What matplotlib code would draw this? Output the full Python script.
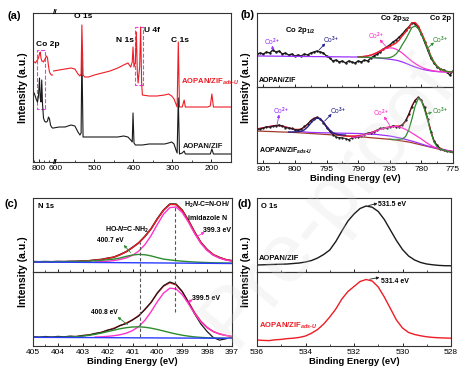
import matplotlib
matplotlib.use('Agg')
import matplotlib.pyplot as plt
from matplotlib.patches import Rectangle
from matplotlib.ticker import MultipleLocator, FixedLocator

plt.rcParams['font.family'] = ['Liberation Sans', 'DejaVu Sans']
plt.rcParams['mathtext.fontset'] = 'custom'
plt.rcParams['mathtext.rm'] = 'Liberation Sans:bold'
plt.rcParams['mathtext.it'] = 'Liberation Sans:italic:bold'
plt.rcParams['mathtext.bf'] = 'Liberation Sans:bold'

RED = '#ee1c25'
BLACK = '#1a1a1a'
MAGENTA = '#ff33cc'
PURPLE = '#9b30ff'
NAVY = '#23238e'
GREEN = '#2e8b2e'
BLUE = '#2b3bff'
BROWN = '#a33a2a'
GREYLINE = '#555555'

# ---------------- (a) survey spectra ----------------
survey_co_be = [811, 809, 807, 805, 803, 801, 799, 797.5, 796, 794.5, 793, 791, 789,
                787, 785, 783, 781, 779, 777, 775, 773]
survey_co_zif = [70, 68, 65, 62, 60, 66, 84, 64, 60, 82, 58, 44, 41,
                 40, 40, 41, 45, 43, 37, 35, 34]
survey_co_ads = [100, 100, 99, 101, 102, 104, 108, 110, 104, 101, 101, 100, 102,
                 104, 106, 104, 96, 90, 88, 87, 87]

survey_be = [605, 590, 575, 560, 550, 542, 537, 534, 532, 529, 525, 515, 500, 480,
             460, 440, 425, 414, 407, 403, 401, 398.5, 395, 392.5, 390, 388, 384,
             381.5, 379, 377, 360, 340, 320, 310, 302, 296, 291, 288, 285, 282,
             275, 270, 267, 240, 210, 203, 199, 195, 170, 150]
survey_zif = [34, 35, 35, 37, 36, 30, 27, 29, 110, 25, 25, 25, 25, 25,
              25, 25, 26, 25, 22, 20, 49, 19, 17, 17, 17, 17, 17,
              17, 17, 17, 18, 18, 18, 19, 20, 18, 12, 9, 64, 8,
              9, 11, 8, 8, 8, 8, 13, 8, 8, 8]
survey_ads = [91, 92, 93, 94, 93, 88, 86, 88, 137, 87, 85, 85, 87, 89,
              91, 94, 97, 99, 95, 100, 115, 95, 100, 130, 90, 79, 95,
              135, 80, 67, 66, 66, 67, 68, 66, 63, 58, 55, 120, 55,
              55, 62, 55, 55, 55, 56, 68, 55, 55, 55]

# ---------------- (b) Co 2p ----------------
co2p_be = [806, 805.5, 805, 804.5, 804, 803.5, 803, 802.5, 802, 801.5, 801, 800.5,
           800, 799.5, 799, 798.5, 798, 797.5, 797, 796.5, 796, 795.5, 795, 794.5,
           794, 793.5, 793, 792.5, 792, 791.5, 791, 790.5, 790, 789.5, 789, 788.5,
           788, 787.5, 787, 786.5, 786, 785.5, 785, 784.5, 784, 783.5, 783, 782.5,
           782, 781.5, 781, 780.5, 780, 779.5, 779, 778.5, 778, 777.5, 777, 776.5,
           776, 775.5, 775]

co_zif_raw = [33, 34, 33, 35, 34, 37, 35, 36, 33, 34, 32, 33,
              31, 32, 31, 33, 32, 34, 35, 36, 35, 34, 31, 29,
              26, 27, 25, 26, 24, 26, 25, 24, 26, 25, 27, 26,
              29, 31, 33, 35, 38, 40, 42, 45, 47, 50, 53, 57,
              60, 64, 63.5, 60, 53, 45, 37, 29, 24, 20, 18, 17,
              15, 12, 16]
co_zif_bg = [31.0, 31.0, 31.0, 30.9, 30.9, 30.9, 30.8, 30.8, 30.8, 30.7, 30.7, 30.7,
             30.6, 30.6, 30.6, 30.5, 30.5, 30.5, 30.4, 30.4, 30.4, 30.3, 30.3, 30.3,
             30.2, 30.2, 30.2, 30.1, 30.1, 30.1, 30.0, 30.0, 30.0, 29.9, 29.8, 29.7,
             29.5, 29.3, 29.1, 28.8, 28.5, 28.1, 27.7, 27.3, 26.8, 26.0, 25.0, 23.8,
             22.5, 21.2, 20.0, 19.0, 18.0, 17.2, 16.6, 16.1, 15.7, 15.4, 15.2, 15.1,
             15.0, 15.0, 15.0]
# fitted curves of the top spectrum, from 790 eV down
co_zif_sat = [30.2, 30.3, 30.6, 31.1, 31.9, 33.0, 34.4, 36.0, 37.5, 38.7, 39.2, 38.9,
              37.8, 36.0, 33.8, 31.1, 28.4, 25.8, 23.5, 21.6, 19.9, 18.5, 17.5, 16.7,
              16.1, 15.6, 15.3, 15.1, 15.0, 15.0, 15.0]
co_zif_co3 = [30.0, 29.9, 29.8, 29.7, 29.5, 29.3, 29.2, 29.0, 28.9, 29.0, 29.4, 30.6,
              33.0, 37.0, 42.5, 47.5, 53.5, 59.5, 61.0, 58.5, 52.5, 46.0, 38.0, 30.5,
              24.5, 20.5, 18.0, 16.5, 15.6, 15.2, 15.0]
co_zif_fit = [30.2, 30.3, 30.6, 31.1, 31.9, 33.0, 34.5, 36.2, 37.9, 39.6, 40.9, 42.2,
              44.0, 47.0, 51.3, 54.8, 59.4, 64.1, 64.5, 61.1, 54.4, 47.3, 38.9, 31.1,
              24.9, 20.7, 18.1, 16.5, 15.6, 15.2, 15.0]

co_ads_raw = [34, 33.8, 35, 36.2, 36, 36.6, 37.5, 38.1, 37, 35.4, 35, 34.6,
              33.5, 33.0, 34, 36.6, 39, 42.5, 44.5, 45.9, 44, 40.1, 35.5, 31.6,
              28.5, 25.9, 25.5, 25.2, 24.5, 23.4, 25, 26.2, 26.5, 26.9, 28.5, 30.1,
              30.5, 31.0, 33, 34.7, 35, 35.0, 36, 37.2, 36.5, 36.4, 38.5, 42.6,
              49, 56.4, 62.5, 65.9, 63, 55.6, 44, 31.5, 22, 17.6, 14.5, 12.6,
              12, 11.9, 11]
co_ads_bg = [32.0, 31.9, 31.75, 31.6, 31.5, 31.4, 31.25, 31.1, 31.0, 30.9, 30.75, 30.6,
             30.5, 30.3, 30.1, 29.9, 29.7, 29.5, 29.3, 29.1, 28.9, 28.7, 28.5, 28.3,
             28.05, 27.85, 27.6, 27.4, 27.2, 26.95, 26.75, 26.5, 26.3, 26.05, 25.8, 25.55,
             25.3, 25.0, 24.75, 24.5, 24.2, 23.95, 23.7, 23.3, 22.9, 22.4, 21.9, 21.45,
             21.0, 20.3, 19.5, 18.8, 18.0, 17.3, 16.5, 15.8, 15.0, 14.2, 13.5, 12.8,
             12.0, 11.2, 10.5]
co_ads_sat1 = [34.0, 34.6, 35.2, 35.9, 36.5, 37.1, 37.5, 37.4, 37.0, 36.1, 35.0, 34.0,
               33.0, 32.2, 31.5, 31.1, 30.8, 30.6, 30.5, 30.4, 30.3, 30.2, 30.15, 30.1,
               30.0, 29.95, 29.9, 29.8, 29.75, 29.7, 29.65, 29.55, 29.5, 29.35, 29.2, 29.0,
               28.85, 28.7, 28.5, 28.1, 27.75, 27.4, 27.0, 26.4, 25.75, 25.1, 24.5, 23.6,
               22.75, 21.9, 21.0, 20.0, 19.0, 18.0, 17.0, 16.25, 15.5, 14.75, 14.0, 13.4,
               12.75, 12.1, 11.5]
# Co3+ 2p1/2 from 801 eV to 792 eV
co_ads_co3b = [31.0, 31.0, 31.1, 31.3, 31.8, 33.2, 36.0, 39.8, 43.2, 45.0, 44.0, 40.8,
               36.5, 32.8, 30.2, 29.0, 28.4, 28.1, 27.9]
# Co2+ satellite from 791 eV down
co_ads_sat2 = [25.5, 26.0, 26.5, 27.2, 28.0, 29.0, 30.0, 31.2, 32.5, 33.6, 34.5, 35.4,
               36.0, 36.4, 36.5, 36.0, 35.0, 33.6, 32.0, 30.0, 28.0, 26.0, 24.0, 21.7,
               19.5, 17.6, 16.0, 15.0, 14.0, 13.2, 12.5, 12.0, 11.5]
# Co3+ 2p3/2 from 785 eV down
co_ads_co3a = [23.7, 23.5, 23.5, 23.6, 24.0, 26.5, 33.0, 44.0, 56.5, 64.5, 62.0, 53.5,
               42.5, 30.5, 21.0, 16.0, 14.0, 13.0, 12.0, 11.3, 10.8]
co_ads_fit = [34.0, 34.6, 35.2, 35.9, 36.5, 37.1, 37.5, 37.4, 37.0, 36.1, 35.2, 34.3,
              33.6, 33.5, 34.0, 35.6, 38.6, 42.3, 44.8, 45.6, 44.4, 41.0, 36.6, 32.8,
              30.2, 28.8, 27.9, 27.4, 27.0, 26.8, 26.8, 27.0, 27.3, 27.8, 28.5, 29.4,
              30.4, 31.5, 32.7, 33.8, 34.7, 35.5, 36.1, 36.6, 36.9, 37.0, 38.0, 41.5,
              48.0, 57.0, 62.8, 65.6, 62.8, 55.0, 44.0, 32.0, 22.0, 17.0, 14.6, 13.2,
              12.2, 11.5, 11.0]

# ---------------- (c) N 1s ----------------
n1s_be = [405.0, 404.75, 404.5, 404.25, 404.0, 403.75, 403.5, 403.25, 403.0, 402.75,
          402.5, 402.25, 402.0, 401.75, 401.5, 401.25, 401.0, 400.75, 400.5, 400.25,
          400.0, 399.75, 399.5, 399.25, 399.0, 398.75, 398.5, 398.25, 398.0, 397.75,
          397.5, 397.25, 397.0]

n1s_zif_raw = [10.4, 10.2, 10.4, 10.2, 10.5, 10.3, 10.6, 10.6, 11.1, 11.2,
               12.0, 12.5, 13.8, 14.8, 17.4, 20.3, 24.6, 29.1, 35.7, 43.3,
               53.3, 62.0, 67.9, 67.9, 61.8, 51.5, 39.8, 29.5, 22.4, 17.2,
               14.5, 12.3, 11.3]
n1s_zif_fit = [10.25, 10.25, 10.28, 10.32, 10.35, 10.41, 10.52, 10.69, 10.98, 11.31,
               11.87, 12.54, 13.64, 14.93, 17.2, 20.46, 24.39, 29.3, 35.46, 43.47,
               53.0, 61.8, 67.49, 67.46, 61.42, 51.22, 39.58, 29.48, 22.27, 17.38,
               14.33, 12.46, 11.13]
n1s_zif_amide = [10.0, 9.95, 9.92, 9.88, 9.84, 9.82, 9.8, 9.82, 9.88, 9.96,
                 10.11, 10.34, 10.78, 11.45, 12.5, 14.1, 16.65, 20.9, 27.36, 36.51,
                 47.66, 57.92, 64.37, 65.02, 59.48, 49.73, 38.38, 28.53, 21.49, 16.74,
                 13.79, 11.99, 10.74]
n1s_zif_oxime = [10.25, 10.25, 10.27, 10.3, 10.32, 10.36, 10.44, 10.54, 10.73, 10.93,
                 11.29, 11.68, 12.3, 12.87, 14.04, 15.66, 16.99, 17.6, 17.26, 16.07,
                 14.4, 12.9, 12.09, 11.36, 10.82, 10.32, 9.98, 9.68, 9.47, 9.27,
                 9.13, 9.02, 8.89]
n1s_zif_base = [10.0, 9.95, 9.91, 9.86, 9.81, 9.77, 9.72, 9.67, 9.63, 9.58,
                9.53, 9.48, 9.44, 9.39, 9.34, 9.3, 9.25, 9.2, 9.16, 9.11,
                9.06, 9.02, 8.97, 8.92, 8.88, 8.83, 8.78, 8.73, 8.69, 8.64,
                8.59, 8.55, 8.5]

n1s_ads_raw = [9.3, 8.8, 9.5, 8.9, 9.6, 9.2, 9.9, 9.4, 10.6, 11.0,
               12.6, 13.5, 15.9, 17.2, 20.6, 22.4, 26.0, 30.0, 36.8, 43.5,
               53.2, 60.4, 64.0, 61.8, 54.6, 43.5, 32.0, 22.0, 14.5, 8.4,
               5.9, 7.2, 8.9]
n1s_ads_fit = [8.7, 8.68, 8.7, 8.71, 8.79, 8.9, 9.13, 9.53, 10.15, 11.05,
               12.22, 13.78, 15.68, 17.81, 20.24, 22.91, 26.22, 30.47, 36.37, 43.94,
               52.81, 59.91, 63.22, 61.11, 54.19, 44.15, 33.38, 24.69, 18.65, 14.52,
               12.08, 10.59, 9.53]
n1s_ads_amide = [8.7, 8.67, 8.66, 8.64, 8.63, 8.61, 8.61, 8.62, 8.68, 8.79,
                 8.92, 9.2, 9.63, 10.29, 11.26, 12.83, 15.4, 19.47, 25.74, 34.41,
                 44.38, 52.94, 57.81, 57.08, 51.35, 42.22, 32.19, 23.96, 18.23, 14.29,
                 11.96, 10.53, 9.5]
n1s_ads_oxime = [8.7, 8.68, 8.68, 8.68, 8.74, 8.83, 9.03, 9.39, 9.92, 10.68,
                 11.69, 12.94, 14.38, 15.81, 17.24, 18.31, 19.02, 19.17, 18.77, 17.83,
                 16.51, 15.01, 13.42, 12.01, 10.79, 9.85, 9.08, 8.59, 8.25, 8.02,
                 7.88, 7.79, 7.73]
n1s_ads_base = [8.7, 8.67, 8.64, 8.61, 8.58, 8.54, 8.51, 8.48, 8.45, 8.42,
                8.39, 8.36, 8.33, 8.29, 8.26, 8.23, 8.2, 8.17, 8.14, 8.11,
                8.08, 8.04, 8.01, 7.98, 7.95, 7.92, 7.89, 7.86, 7.83, 7.79,
                7.76, 7.73, 7.7]

# ---------------- (d) O 1s ----------------
o1s_be = [536.0, 535.75, 535.5, 535.25, 535.0, 534.75, 534.5, 534.25, 534.0, 533.75,
          533.5, 533.25, 533.0, 532.75, 532.5, 532.25, 532.0, 531.75, 531.5, 531.25,
          531.0, 530.75, 530.5, 530.25, 530.0, 529.75, 529.5, 529.25, 529.0, 528.75,
          528.5, 528.25, 528.0]
o1s_zif = [7.0, 7.2, 7.4, 7.6, 7.8, 8.0, 8.5, 9.0, 10.0, 11.5,
           14.0, 17.5, 22.0, 30.5, 41.0, 51.0, 58.0, 63.5, 66.0, 64.8,
           60.5, 52.5, 42.0, 31.5, 22.5, 16.0, 12.0, 9.5, 8.0, 7.2,
           6.6, 6.3, 6.2]
o1s_ads = [6.0, 5.6, 5.4, 6.2, 6.6, 7.4, 7.8, 8.6, 10.0, 12.8,
           16.5, 22.0, 29.0, 37.0, 47.0, 54.5, 59.5, 64.5, 66.5, 65.0,
           59.0, 49.0, 37.5, 26.0, 18.0, 13.5, 11.5, 10.2, 9.2, 8.6,
           8.2, 8.0, 7.8]

W, H = 476, 381


def px_box(left, top, right, bottom):
    """axes rectangle from pixel edges of the 476x381 picture"""
    return [left / W, 1 - bottom / H, (right - left) / W, (bottom - top) / H]


def style_axis(ax, major, minor, show_labels=True):
    ax.xaxis.set_major_locator(major)
    ax.xaxis.set_minor_locator(minor)
    ax.tick_params(axis='x', which='major', direction='in', length=2.5, width=0.6,
                   labelsize=6, pad=2, labelbottom=show_labels)
    ax.tick_params(axis='x', which='minor', direction='in', length=1.5, width=0.5)
    ax.set_yticks([])
    ax.set_facecolor('none')
    for s in ax.spines.values():
        s.set_linewidth(0.8)
        s.set_color('#333333')


def pointer(ax, tail, head, color):
    ax.annotate('', xy=head, xytext=tail,
                arrowprops=dict(arrowstyle='-|>', color=color, lw=0.6,
                                mutation_scale=4, shrinkA=0, shrinkB=0))


def fig_text(x, y, s, **kw):
    fig.text(x / W, 1 - y / H, s, ha='center', va='center', **kw)


fig = plt.figure(figsize=(W / 100, H / 100), dpi=100)

# ---- panel (a) with broken axis ----
ax_al = fig.add_axes(px_box(33, 13, 53, 162))
ax_ar = fig.add_axes(px_box(53, 13, 231, 162))
ax_al.plot(survey_co_be, survey_co_zif, color=BLACK, lw=0.8)
ax_al.plot(survey_co_be, survey_co_ads, color=RED, lw=0.8)
ax_ar.plot(survey_be, survey_zif, color=BLACK, lw=0.8)
ax_ar.plot(survey_be, survey_ads, color=RED, lw=0.8)
ax_al.set_xlim(812, 772)
ax_ar.set_xlim(606, 150)
for ax in (ax_al, ax_ar):
    ax.set_ylim(0, 149)
style_axis(ax_al, FixedLocator([800]), MultipleLocator(10))
style_axis(ax_ar, MultipleLocator(100), MultipleLocator(50))
ax_al.spines['right'].set_visible(False)
ax_ar.spines['left'].set_visible(False)

ax_al.add_patch(Rectangle((788, 53), 16, 59, fill=False, ec='#e040e0', ls='--', lw=0.8))
ax_ar.add_patch(Rectangle((375, 77), 21, 58, fill=False, ec='#e040e0', ls='--', lw=0.8))
ax_al.text(806, 117, 'Co 2p', fontsize=6, fontweight='bold', ha='left', va='center',
           clip_on=False, zorder=5)
ax_ar.text(529, 145, 'O 1s', fontsize=6, fontweight='bold', ha='center', va='center')
ax_ar.text(421, 122, 'N 1s', fontsize=6, fontweight='bold', ha='center', va='center')
ax_ar.text(352, 132, 'U 4f', fontsize=6, fontweight='bold', ha='center', va='center')
ax_ar.text(281, 121, 'C 1s', fontsize=6, fontweight='bold', ha='center', va='center')
ax_ar.text(278, 80, 'AOPAN/ZIF$_{ads\u2010U}$', color=RED, fontsize=5.5,
           fontweight='bold', ha='left', va='center')
ax_ar.text(273, 16, 'AOPAN/ZIF', color=BLACK, fontsize=5.5, fontweight='bold',
           ha='left', va='center')
fig_text(55, 13, '//', fontsize=6, fontweight='bold')
fig_text(55, 162, '//', fontsize=6, fontweight='bold')

# ---- panel (b) Co 2p ----
ax_bt = fig.add_axes(px_box(257, 13, 453, 87))
ax_bb = fig.add_axes(px_box(257, 87, 453, 163))
fit_be = co2p_be[32:]

ax_bt.plot(co2p_be, co_zif_raw, color=BLACK, lw=1.0, marker='.', ms=1.5)
ax_bt.plot(co2p_be, co_zif_bg, color=PURPLE, lw=0.9)
ax_bt.plot(fit_be, co_zif_sat, color=MAGENTA, lw=0.9)
ax_bt.plot(fit_be, co_zif_fit, color=RED, lw=1.0)
ax_bt.plot(fit_be, co_zif_co3, color=GREEN, lw=0.9)

ax_bb.plot(co2p_be, co_ads_bg, color=BROWN, lw=0.9)
ax_bb.plot(co2p_be, co_ads_sat1, color=PURPLE, lw=0.9)
ax_bb.plot(co2p_be, co_ads_fit, color=RED, lw=1.0)
ax_bb.plot(co2p_be, co_ads_raw, color=BLACK, lw=0.7, marker='.', ms=1.3)
ax_bb.plot(co2p_be[10:29], co_ads_co3b, color=NAVY, lw=1.0)
ax_bb.plot(co2p_be[30:], co_ads_sat2, color=MAGENTA, lw=0.9)
ax_bb.plot(co2p_be[42:], co_ads_co3a, color=GREEN, lw=0.9)

ax_bt.set_ylim(0, 74)
ax_bb.set_ylim(0, 76)
for ax in (ax_bt, ax_bb):
    ax.set_xlim(806, 775)
style_axis(ax_bt, MultipleLocator(5), MultipleLocator(2.5), show_labels=False)
style_axis(ax_bb, MultipleLocator(5), MultipleLocator(2.5))
ax_bb.set_xlabel('Binding Energy (eV)', fontsize=6.8, fontweight='bold', labelpad=1)

ax_bt.text(799.2, 56, 'Co 2p$_{1/2}$', fontsize=5.5, fontweight='bold', ha='center', va='center')
ax_bt.text(784.2, 68, 'Co 2p$_{3/2}$', fontsize=5.5, fontweight='bold', ha='center', va='center')
ax_bt.text(777.0, 68, 'Co 2p', fontsize=5.5, fontweight='bold', ha='center', va='center')
ax_bt.text(805.7, 7, 'AOPAN/ZIF', fontsize=5, fontweight='bold', ha='left', va='center')
ax_bb.text(805.7, 12, 'AOPAN/ZIF$_{ads\u2010U}$', fontsize=5, fontweight='bold',
           ha='left', va='center')

ion_tags_top = [('Co$^{2+}$', PURPLE, (803.6, 45), (803.5, 37.5), (803.6, 41.5)),
                ('Co$^{3+}$', NAVY, (794.3, 47), (796.2, 37), (795.2, 43.5)),
                ('Co$^{2+}$', MAGENTA, (787.2, 51), (785.6, 40.5), (786.6, 47.5)),
                ('Co$^{3+}$', GREEN, (777.0, 47), (779.0, 39), (778.0, 44.5))]
ion_tags_bottom = [('Co$^{2+}$', PURPLE, (802.2, 52), (802.8, 39), (802.5, 48.5)),
                   ('Co$^{3+}$', NAVY, (793.2, 52), (795.3, 42), (794.2, 49)),
                   ('Co$^{2+}$', MAGENTA, (786.4, 50), (785.0, 37.5), (785.9, 46.5)),
                   ('Co$^{3+}$', GREEN, (777.0, 52), (779.3, 48.5), (778.3, 51))]
for ax, tags in ((ax_bt, ion_tags_top), (ax_bb, ion_tags_bottom)):
    for label, color, pos, tail, head in tags:
        ax.text(pos[0], pos[1], label, color=color, fontsize=4.8, ha='center', va='center')
        pointer(ax, tail, head, color)

# ---- panel (c) N 1s ----
ax_ct = fig.add_axes(px_box(33, 198, 232, 272))
ax_cb = fig.add_axes(px_box(33, 272, 232, 346))

ax_ct.plot(n1s_be, n1s_zif_raw, color=BLACK, lw=1.2)
ax_ct.plot(n1s_be, n1s_zif_fit, color=RED, lw=1.0)
ax_ct.plot(n1s_be[10:], n1s_zif_amide[10:], color=MAGENTA, lw=1.0)
ax_ct.plot(n1s_be, n1s_zif_oxime, color=GREEN, lw=1.0)
ax_ct.plot(n1s_be, n1s_zif_base, color=BLUE, lw=1.0)

ax_cb.plot(n1s_be, n1s_ads_fit, color=RED, lw=1.0)
ax_cb.plot(n1s_be, n1s_ads_raw, color=BLACK, lw=0.9)
ax_cb.plot(n1s_be[10:], n1s_ads_amide[10:], color=MAGENTA, lw=1.0)
ax_cb.plot(n1s_be, n1s_ads_oxime, color=GREEN, lw=1.0)
ax_cb.plot(n1s_be, n1s_ads_base, color=BLUE, lw=1.0)

for ax in (ax_ct, ax_cb):
    ax.set_xlim(405, 397)
    ax.set_ylim(0, 74)
style_axis(ax_ct, MultipleLocator(1), MultipleLocator(0.5), show_labels=False)
style_axis(ax_cb, MultipleLocator(1), MultipleLocator(0.5))
ax_cb.set_xlabel('Binding Energy (eV)', fontsize=6.8, fontweight='bold', labelpad=1)

dash = dict(color=GREYLINE, ls=(0, (3, 2)), lw=0.8)
ax_ct.plot([400.7, 400.7], [0, 30], **dash)
ax_ct.plot([399.3, 399.3], [0, 67], **dash)
ax_cb.plot([400.7, 400.7], [9, 74], **dash)
ax_cb.plot([399.3, 399.3], [34, 74], **dash)

ax_ct.text(404.8, 66, 'N 1s', fontsize=5.5, fontweight='bold', ha='left', va='center')
ax_ct.text(398.0, 67, 'H$_2$$N$-C=N-OH/', fontsize=5, fontweight='bold', ha='center', va='center')
ax_ct.text(398.0, 54, 'imidazole N', fontsize=5, fontweight='bold', ha='center', va='center')
ax_ct.text(397.6, 42, '399.3 eV', fontsize=5, fontweight='bold', ha='center', va='center')
ax_ct.text(401.2, 42.5, 'HO-$N$=C-NH$_2$', fontsize=5, fontweight='bold', ha='center', va='center')
ax_ct.text(401.9, 31, '400.7 eV', fontsize=4.8, fontweight='bold', ha='center', va='center')
pointer(ax_ct, (398.4, 35.5), (398.1, 40), MAGENTA)
pointer(ax_ct, (401.08, 19.5), (401.35, 27), GREEN)
ax_cb.text(402.15, 33, '400.8 eV', fontsize=4.8, fontweight='bold', ha='center', va='center')
ax_cb.text(398.05, 47, '399.5 eV', fontsize=5, fontweight='bold', ha='center', va='center')
pointer(ax_cb, (401.2, 21.5), (401.6, 29), GREEN)
pointer(ax_cb, (398.78, 43.5), (398.58, 46.5), MAGENTA)

# ---- panel (d) O 1s ----
ax_dt = fig.add_axes(px_box(257, 198, 451, 272))
ax_db = fig.add_axes(px_box(257, 272, 451, 346))
ax_dt.plot(o1s_be, o1s_zif, color=BLACK, lw=1.0)
ax_db.plot(o1s_be, o1s_ads, color=RED, lw=1.0)
for ax in (ax_dt, ax_db):
    ax.set_xlim(536, 528)
    ax.set_ylim(0, 74)
style_axis(ax_dt, MultipleLocator(2), MultipleLocator(1), show_labels=False)
style_axis(ax_db, MultipleLocator(2), MultipleLocator(1))
ax_db.set_xlabel('Binding Energy (eV)', fontsize=6.8, fontweight='bold', labelpad=1)

ax_dt.text(535.84, 66, 'O 1s', fontsize=5.5, fontweight='bold', ha='left', va='center')
ax_dt.text(531.0, 67.5, '531.5 eV', fontsize=5, fontweight='bold', ha='left', va='center')
ax_dt.text(535.92, 14, 'AOPAN/ZIF', fontsize=5.5, fontweight='bold', ha='left', va='center')
pointer(ax_dt, (531.4, 66.5), (531.03, 68.5), BLACK)
ax_db.text(530.9, 64.5, '531.4 eV', fontsize=5, fontweight='bold', ha='left', va='center')
ax_db.text(535.92, 20, 'AOPAN/ZIF$_{ads\u2010U}$', color=RED, fontsize=5.5,
           fontweight='bold', ha='left', va='center')
pointer(ax_db, (531.35, 66.8), (530.95, 68.5), BLACK)

# ---- panel letters and y labels ----
for x, y, s in ((14, 16, '(a)'), (247, 15, '(b)'), (11, 204, '(c)'), (245, 204, '(d)')):
    fig_text(x, y, s, fontsize=8, fontweight='bold')
for x, y in ((23, 88), (246, 88), (23, 272), (246, 272)):
    fig_text(x, y, 'Intensity (a.u.)', fontsize=7.5, fontweight='bold', rotation=90)

# faint diagonal watermark of the proof copy
fig.text(0.69, 0.47, 'Pre-proof', fontsize=60, color='#d8d8d8', alpha=0.22,
         rotation=50, ha='center', va='center', zorder=10)

fig.savefig('out.png', dpi=100, facecolor='white')
